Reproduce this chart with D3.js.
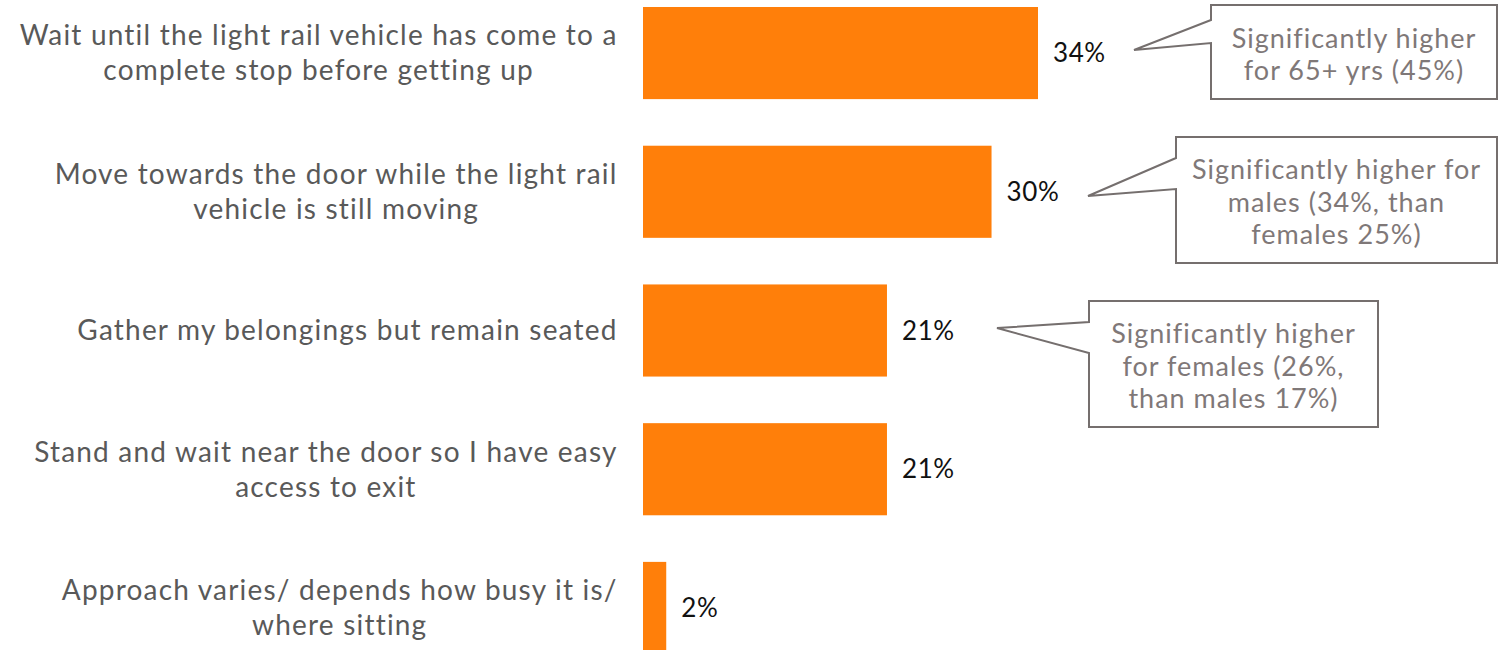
<!DOCTYPE html>
<html>
<head>
<meta charset="utf-8">
<script src="https://cdn.jsdelivr.net/npm/d3@7"></script>
<style>
  html, body { margin: 0; padding: 0; background: #fff; }
  svg { display: block; }
  text { font-family: "Century Gothic", "Lato", "Open Sans", sans-serif; }
</style>
</head>
<body>
<svg id="chart" width="1504" height="650"></svg>
<script>
// Survey responses: what riders do when approaching their stop
const categories = [
  ["Wait until the light rail vehicle has come to a", "complete stop before getting up"],
  ["Move towards the door while the light rail", "vehicle is still moving"],
  ["Gather my belongings but remain seated"],
  ["Stand and wait near the door so I have easy", "access to exit"],
  ["Approach varies/ depends how busy it is/", "where sitting"]
];
const values = [34, 30, 21, 21, 2];
const valueLabels = ["34%", "30%", "21%", "21%", "2%"];

// Notes on significant subgroup differences
const noteTargets = [0, 1, 2];
const noteLines = [
  ["Significantly higher", "for 65+ yrs (45%)"],
  ["Significantly higher for", "males (34%, than", "females 25%)"],
  ["Significantly higher", "for females (26%,", "than males 17%)"]
];

const svg = d3.select("#chart");
const keys = categories.map((c, i) => i);

const x = d3.scaleLinear().domain([0, 34]).range([643, 1038]);
const y = d3.scaleBand().domain(keys).range([7, 654]).paddingInner(0.336).paddingOuter(0);

const barColor = "#FF7F0A";

// bars
svg.append("g").selectAll("rect")
  .data(values)
  .join("rect")
  .attr("x", x(0))
  .attr("y", (d, i) => y(i))
  .attr("width", d => x(d) - x(0))
  .attr("height", y.bandwidth())
  .attr("fill", barColor);

// category labels: each block is centred, and the block's right edge sits next to the bars
const lineH = 35;
const labelRight = 617;
const labelG = svg.append("g");
categories.forEach((lines, i) => {
  const cy = y(i) + y.bandwidth() / 2;
  const t = labelG.append("text")
    .attr("text-anchor", "middle")
    .attr("fill", "#595959")
    .attr("font-size", 28)
    .attr("letter-spacing", 1.2);
  const spans = lines.map((ln, j) => t.append("tspan")
    .attr("y", cy + (j - (lines.length - 1) / 2) * lineH)
    .attr("dy", "0.35em")
    .text(ln));
  const widest = d3.max(spans, s => s.node().getComputedTextLength()) - 1.2;
  spans.forEach(s => s.attr("x", labelRight - widest / 2));
});

// value labels
svg.append("g").selectAll("text")
  .data(values)
  .join("text")
  .attr("x", d => x(d) + 15)
  .attr("y", (d, i) => y(i) + y.bandwidth() / 2)
  .attr("dy", "0.35em")
  .attr("fill", "#111")
  .attr("font-size", 26)
  .attr("letter-spacing", 0.6)
  .text((d, i) => valueLabels[i]);

// callout boxes with pointer tails toward the value labels
const boxes = [
  { x0: 1211, y0: 5, x1: 1497, y1: 99, ta: 20, tb: 43, tip: [1134, 50] },
  { x0: 1176, y0: 137, x1: 1497, y1: 263, ta: 158, tb: 189, tip: [1088, 196] },
  { x0: 1089, y0: 301, x1: 1378, y1: 427, ta: 322, tb: 353, tip: [997, 328] }
];
const noteColor = "#756f6e";
const noteG = svg.append("g");
noteTargets.forEach((target, k) => {
  const b = boxes[k];
  const path = [
    [b.x0, b.y0], [b.x1, b.y0], [b.x1, b.y1], [b.x0, b.y1],
    [b.x0, b.tb], b.tip, [b.x0, b.ta]
  ];
  noteG.append("path")
    .attr("d", d3.line()(path) + "Z")
    .attr("fill", "#fff")
    .attr("stroke", noteColor)
    .attr("stroke-width", 2);
  const lines = noteLines[k];
  const cx = (b.x0 + b.x1) / 2;
  const cy = (b.y0 + b.y1) / 2 + 2.5;
  const t = noteG.append("text")
    .attr("text-anchor", "middle")
    .attr("fill", "#7f7878")
    .attr("font-size", 27)
    .attr("letter-spacing", 1.0);
  lines.forEach((ln, j) => {
    t.append("tspan")
      .attr("x", cx)
      .attr("y", cy + (j - (lines.length - 1) / 2) * 32.5)
      .attr("dy", "0.35em")
      .text(ln);
  });
});
</script>
</body>
</html>
